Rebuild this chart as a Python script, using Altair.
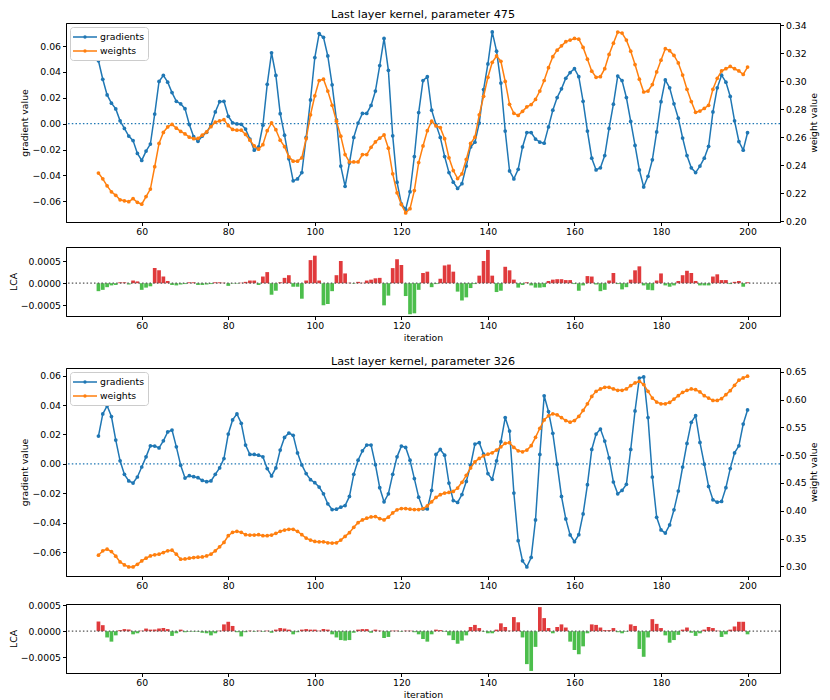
import altair as alt
import pandas as pd

iterations = list(range(50, 201))

# ---- panel 1: parameter 475 ----
top_grad = [
    0.0486, 0.0343, 0.0222, 0.0158, 0.0114, 0.0022, -0.0037, -0.0096, -0.0131, -0.0230,   # 50-59
    -0.0284, -0.0212, -0.0158, 0.0074, 0.0326, 0.0373, 0.0321, 0.0240, 0.0173, 0.0153,   # 60-69
    0.0116, -0.0007, -0.0101, -0.0136, -0.0096, -0.0067, -0.0012, 0.0091, 0.0170, 0.0173,  # 70-79
    0.0057, 0.0007, -0.0002, -0.0005, -0.0042, -0.0119, -0.0205, -0.0180, -0.0012, 0.0304,  # 80-89
    0.0548, 0.0373, 0.0077, -0.0089, -0.0272, -0.0442, -0.0427, -0.0378, -0.0106, 0.0183,  # 90-99
    0.0511, 0.0696, 0.0667, 0.0523, 0.0300, 0.0030, -0.0328, -0.0484, -0.0304, -0.0106,  # 100-109
    0.0005, 0.0079, 0.0079, 0.0141, 0.0252, 0.0449, 0.0659, 0.0412, -0.0094, -0.0452,    # 110-119
    -0.0620, -0.0662, -0.0526, -0.0254, 0.0086, 0.0333, 0.0363, 0.0104, -0.0007, -0.0106,  # 120-129
    -0.0254, -0.0378, -0.0452, -0.0501, -0.0464, -0.0328, -0.0180, -0.0143, 0.0005, 0.0264,  # 130-139
    0.0462, 0.0709, 0.0560, 0.0314, -0.0057, -0.0365, -0.0427, -0.0353, -0.0180, -0.0069,  # 140-149
    -0.0069, -0.0119, -0.0143, -0.0151, -0.0025, 0.0104, 0.0202, 0.0269, 0.0351, 0.0395,  # 150-159
    0.0425, 0.0363, 0.0173, -0.0057, -0.0267, -0.0358, -0.0341, -0.0247, -0.0037, 0.0151,  # 160-169
    0.0368, 0.0333, 0.0202, 0.0017, -0.0168, -0.0358, -0.0489, -0.0407, -0.0279, -0.0064,  # 170-179
    0.0170, 0.0338, 0.0277, 0.0153, 0.0042, -0.0111, -0.0247, -0.0341, -0.0378, -0.0328,  # 180-189
    -0.0267, -0.0175, 0.0091, 0.0277, 0.0375, 0.0321, 0.0210, 0.0022, -0.0138, -0.0205,  # 190-199
    -0.0070,                                                                              # 200
]
top_weight = [
    0.2345, 0.2304, 0.2254, 0.2211, 0.2186, 0.2154, 0.2147, 0.2141, 0.2163, 0.2136,
    0.2123, 0.2177, 0.2231, 0.2390, 0.2556, 0.2635, 0.2674, 0.2692, 0.2665, 0.2642,
    0.2624, 0.2601, 0.2590, 0.2592, 0.2615, 0.2638, 0.2676, 0.2708, 0.2717, 0.2726,
    0.2683, 0.2656, 0.2651, 0.2651, 0.2620, 0.2579, 0.2538, 0.2515, 0.2547, 0.2647,
    0.2703, 0.2654, 0.2579, 0.2533, 0.2461, 0.2430, 0.2430, 0.2454, 0.2590, 0.2760,
    0.2896, 0.3005, 0.3014, 0.2930, 0.2828, 0.2715, 0.2608, 0.2477, 0.2424, 0.2424,
    0.2424, 0.2477, 0.2477, 0.2529, 0.2567, 0.2594, 0.2617, 0.2522, 0.2340, 0.2204,
    0.2120, 0.2061, 0.2091, 0.2220, 0.2420, 0.2538, 0.2647, 0.2715, 0.2681, 0.2669,
    0.2590, 0.2454, 0.2363, 0.2306, 0.2340, 0.2442, 0.2556, 0.2601, 0.2760, 0.2892,
    0.3028, 0.3135, 0.3180, 0.3142, 0.2998, 0.2835, 0.2771, 0.2756, 0.2785, 0.2817,
    0.2833, 0.2870, 0.2930, 0.3005, 0.3096, 0.3175, 0.3221, 0.3252, 0.3282, 0.3293,
    0.3305, 0.3300, 0.3241, 0.3157, 0.3071, 0.3028, 0.3032, 0.3089, 0.3191, 0.3271,
    0.3350, 0.3343, 0.3293, 0.3214, 0.3119, 0.3014, 0.2923, 0.2930, 0.2976, 0.3066,
    0.3150, 0.3232, 0.3218, 0.3184, 0.3130, 0.3044, 0.2942, 0.2855, 0.2778, 0.2787,
    0.2806, 0.2828, 0.2942, 0.3021, 0.3073, 0.3089, 0.3105, 0.3089, 0.3073, 0.3048,
    0.3101,
]
top_lca = [
    -0.00018, -0.00015, -0.00009, -0.00005, -0.00004, 0.00002, 0.00002, -0.00003, 0.00006, 0.00004,
    -0.00015, -0.00010, -0.00007, 0.00034, 0.00029, 0.00015, 0.00005, -0.00004, -0.00005, -0.00003,
    -0.00002, 0.00002, 0.00002, -0.00004, -0.00004, -0.00003, -0.00002, 0.00002, 0.00002, 0.00001,
    -0.00006, -0.00001, -0.00001, 0.00001, 0.00003, 0.00006, 0.00006, -0.00004, 0.00015, 0.00025,
    -0.00026, -0.00017, 0.00002, 0.00012, 0.00018, -0.00008, -0.00008, -0.00035, 0.00006, 0.00052,
    0.00062, 0.00006, -0.00050, -0.00047, -0.00018, 0.00018, 0.00050, 0.00022, 0.00001, -0.00001,
    0.00003, 0.00001, 0.00006, 0.00008, 0.00011, 0.00012, -0.00050, -0.00028, 0.00034, 0.00054,
    0.00041, -0.00029, -0.00070, -0.00068, -0.00015, 0.00023, 0.00026, -0.00009, -0.00002, 0.00010,
    0.00040, 0.00042, 0.00026, -0.00019, -0.00039, -0.00032, -0.00011, -0.00002, 0.00017, 0.00050,
    0.00075, 0.00017, -0.00020, -0.00017, 0.00037, 0.00029, 0.00008, -0.00010, -0.00004, 0.00002,
    -0.00005, -0.00010, -0.00010, -0.00009, 0.00005, 0.00008, 0.00009, 0.00009, 0.00007, 0.00007,
    -0.00002, -0.00017, -0.00005, 0.00016, 0.00015, -0.00003, -0.00018, -0.00015, 0.00006, 0.00023,
    -0.00002, -0.00014, -0.00009, 0.00008, 0.00029, 0.00038, -0.00005, -0.00015, -0.00016, 0.00006,
    0.00022, -0.00005, -0.00008, -0.00005, 0.00005, 0.00018, 0.00028, 0.00023, 0.00005, -0.00005,
    -0.00005, -0.00005, 0.00015, 0.00020, 0.00007, 0.00007, -0.00002, 0.00003, 0.00005, -0.00008,
    0.00002,
]

# ---- panel 2: parameter 326 ----
bot_grad = [
    0.0189, 0.0340, 0.0395, 0.0322, 0.0162, 0.0021, -0.0071, -0.0116, -0.0130, -0.0089,
    -0.0021, 0.0048, 0.0123, 0.0121, 0.0109, 0.0157, 0.0217, 0.0230, 0.0116, -0.0009,
    -0.0096, -0.0080, -0.0087, -0.0094, -0.0112, -0.0121, -0.0116, -0.0071, -0.0027, 0.0036,
    0.0203, 0.0299, 0.0340, 0.0276, 0.0128, 0.0064, 0.0064, 0.0059, 0.0048, -0.0032,
    -0.0082, -0.0027, 0.0094, 0.0180, 0.0210, 0.0194, 0.0075, -0.0007, -0.0066, -0.0107,
    -0.0128, -0.0157, -0.0203, -0.0271, -0.0310, -0.0308, -0.0294, -0.0283, -0.0221, -0.0071,
    0.0025, 0.0089, 0.0128, 0.0128, -0.0005, -0.0162, -0.0258, -0.0203, -0.0071, 0.0048,
    0.0121, 0.0112, 0.0025, -0.0100, -0.0226, -0.0306, -0.0306, -0.0180, 0.0064, 0.0098,
    0.0059, -0.0130, -0.0249, -0.0262, -0.0208, -0.0119, -0.0009, 0.0135, 0.0144, 0.0066,
    -0.0066, -0.0105, 0.0021, 0.0151, 0.0315, 0.0223, -0.0198, -0.0522, -0.0659, -0.0700,
    -0.0636, -0.0381, 0.0064, 0.0463, 0.0356, 0.0208, -0.0002, -0.0221, -0.0374, -0.0483,
    -0.0529, -0.0481, -0.0340, -0.0141, 0.0098, 0.0203, 0.0237, 0.0155, 0.0041, -0.0123,
    -0.0203, -0.0180, -0.0139, 0.0098, 0.0360, 0.0584, 0.0591, 0.0315, -0.0089, -0.0363,
    -0.0449, -0.0470, -0.0415, -0.0312, -0.0185, -0.0021, 0.0139, 0.0283, 0.0328, 0.0146,
    -0.0002, -0.0153, -0.0244, -0.0260, -0.0255, -0.0162, -0.0032, 0.0075, 0.0123, 0.0271,
    0.0367,
]
bot_weight = [
    0.3200, 0.3278, 0.3308, 0.3266, 0.3181, 0.3079, 0.3024, 0.2988, 0.2988, 0.3036,
    0.3097, 0.3145, 0.3187, 0.3206, 0.3218, 0.3248, 0.3278, 0.3290, 0.3218, 0.3127,
    0.3133, 0.3145, 0.3157, 0.3163, 0.3169, 0.3187, 0.3218, 0.3278, 0.3351, 0.3429,
    0.3550, 0.3611, 0.3629, 0.3611, 0.3568, 0.3562, 0.3562, 0.3568, 0.3550, 0.3550,
    0.3562, 0.3593, 0.3629, 0.3653, 0.3665, 0.3665, 0.3629, 0.3568, 0.3508, 0.3472,
    0.3447, 0.3441, 0.3441, 0.3423, 0.3417, 0.3423, 0.3472, 0.3538, 0.3605, 0.3701,
    0.3786, 0.3834, 0.3865, 0.3889, 0.3895, 0.3859, 0.3834, 0.3883, 0.3961, 0.4016,
    0.4040, 0.4040, 0.4028, 0.4022, 0.4022, 0.4040, 0.4088, 0.4161, 0.4240, 0.4288,
    0.4318, 0.4330, 0.4348, 0.4409, 0.4512, 0.4638, 0.4771, 0.4880, 0.4941, 0.4989,
    0.5019, 0.5044, 0.5092, 0.5152, 0.5213, 0.5225, 0.5140, 0.5080, 0.5062, 0.5092,
    0.5171, 0.5322, 0.5485, 0.5636, 0.5709, 0.5745, 0.5727, 0.5678, 0.5624, 0.5594,
    0.5624, 0.5697, 0.5805, 0.5926, 0.6059, 0.6150, 0.6192, 0.6222, 0.6222, 0.6192,
    0.6168, 0.6168, 0.6192, 0.6253, 0.6301, 0.6331, 0.6271, 0.6150, 0.6029, 0.5956,
    0.5926, 0.5926, 0.5950, 0.6011, 0.6071, 0.6132, 0.6168, 0.6192, 0.6180, 0.6138,
    0.6071, 0.6029, 0.5987, 0.5987, 0.6017, 0.6090, 0.6162, 0.6259, 0.6350, 0.6392,
    0.6422,
]
bot_lca = [
    0.000185, 0.000115, -0.00012, -0.00020, -0.00008, 0.00002, 0.00004, 0.00003, -0.00006, -0.00004,
    0.00001, 0.00005, 0.00003, 0.00003, 0.00005, 0.00006, 0.00004, -0.00009, -0.00004, 0.00003,
    -0.00002, -0.00001, -0.00001, -0.00001, -0.00003, -0.00004, -0.00008, -0.00004, 0.00001, 0.00013,
    0.00018, 0.00010, -0.00002, -0.00010, -0.00002, 0.00001, -0.00001, 0.00001, -0.00001, 0.00001,
    -0.00003, 0.00003, 0.00006, 0.00005, 0.00003, -0.00006, -0.00002, 0.00003, 0.00004, 0.00003,
    0.00003, 0.00001, 0.00004, 0.00003, -0.00006, -0.00012, -0.00017, -0.00018, -0.00017, -0.00003,
    0.00003, 0.00004, 0.00004, -0.00003, 0.00003, 0.00001, -0.00013, -0.00011, 0.00001, 0.00001,
    -0.00001, 0.00001, 0.00001, -0.00002, -0.00006, -0.00015, -0.00020, -0.00006, 0.00003, 0.00002,
    -0.00001, -0.00008, -0.00017, -0.00024, -0.00018, -0.00008, 0.00008, 0.00012, 0.00006, -0.00001,
    -0.00004, -0.00004, 0.00003, 0.00015, 0.00008, 0.00001, 0.00027, 0.00017, -0.00012, -0.00063,
    -0.00076, -0.00030, 0.00046, 0.00025, 0.00006, -0.00004, 0.00008, 0.00013, 0.00007, -0.00020,
    -0.00036, -0.00044, -0.00029, -0.00004, 0.00013, 0.00012, 0.00007, 0.00002, 0.00002, 0.00006,
    -0.00002, -0.00004, -0.00001, 0.00013, 0.00010, -0.00034, -0.00049, -0.00012, 0.00023, 0.00014,
    0.00006, -0.00008, -0.00022, -0.00017, -0.00007, 0.00003, 0.00007, -0.00003, -0.00009, -0.00004,
    0.00003, 0.00008, 0.00006, 0.00001, -0.00011, -0.00006, 0.00003, 0.00009, 0.00018, 0.00018,
    -0.00006,
]

x_ticks = [60, 80, 100, 120, 140, 160, 180, 200]
grad_ticks = [-0.06, -0.04, -0.02, 0.0, 0.02, 0.04, 0.06]
top_w_ticks = [0.20, 0.22, 0.24, 0.26, 0.28, 0.30, 0.32, 0.34]
bot_w_ticks = [0.30, 0.35, 0.40, 0.45, 0.50, 0.55, 0.60, 0.65]
lca_ticks = [-0.0005, 0.0, 0.0005]

FONT = "DejaVu Sans"
BLUE = "#1f77b4"
ORANGE = "#ff7f0e"
RED = "#e03a3c"
GREEN = "#4cbe4c"
W = 714
X_DOMAIN = [42.5, 207.5]
LEGEND_SYMBOL = "M-2,0L2,0M-0.17,0A0.17,0.17,0,1,1,0.17,0A0.17,0.17,0,1,1,-0.17,0Z"


def x_enc(field, title=None):
    return alt.X(
        field,
        scale=alt.Scale(domain=X_DOMAIN, nice=False, zero=False),
        axis=alt.Axis(values=x_ticks, title=title, format="d", labelOverlap=False),
    )


def line_panel(title, grad, weight, gdom, wdom, wticks, height):
    df_g = pd.DataFrame({"iteration": iterations, "value": grad, "series": "gradients"})
    df_w = pd.DataFrame({"iteration": iterations, "value": weight, "series": "weights"})
    zero_df = pd.DataFrame({"value": [0.0]})
    color = alt.Color(
        "series:N",
        scale=alt.Scale(domain=["gradients", "weights"], range=[BLUE, ORANGE]),
        legend=alt.Legend(
            title=None, orient="top-left", offset=4, padding=3,
            strokeColor="#cccccc", fillColor="white", cornerRadius=3,
            labelFont=FONT, labelFontSize=9.3, labelColor="black",
            symbolType=LEGEND_SYMBOL, symbolSize=144, symbolStrokeWidth=1.5,
            symbolOffset=5, labelOffset=8, rowPadding=1,
        ),
    )
    g_axis = alt.Axis(orient="left", title="gradient value", values=grad_ticks,
                      format=".2f", labelOverlap=False, labelSeparation=0)
    g_scale = alt.Scale(domain=gdom, nice=False, zero=False)
    gline = alt.Chart(df_g).mark_line(
        strokeWidth=1.5, point=alt.OverlayMarkDef(filled=True, size=14)
    ).encode(
        x=x_enc("iteration:Q"),
        y=alt.Y("value:Q", scale=g_scale, axis=g_axis),
        color=color,
    )
    zero = alt.Chart(zero_df).mark_rule(
        color=BLUE, strokeDash=[1.5, 2.2], strokeWidth=1.4
    ).encode(y=alt.Y("value:Q", scale=g_scale, axis=g_axis))
    wline = alt.Chart(df_w).mark_line(
        strokeWidth=1.5, point=alt.OverlayMarkDef(filled=True, size=14)
    ).encode(
        x=x_enc("iteration:Q"),
        y=alt.Y("value:Q", scale=alt.Scale(domain=wdom, nice=False, zero=False),
                axis=alt.Axis(orient="right", title="weight value", values=wticks,
                              format=".2f", labelOverlap=False, titleAngle=270,
                              titleBaseline="top", titlePadding=3)),
        color=color,
    )
    return alt.layer(alt.layer(gline, zero), wline).resolve_scale(y="independent").properties(
        width=W, height=height,
        title=alt.TitleParams(title, font=FONT, fontSize=11.2, fontWeight="normal",
                              color="black", offset=1, anchor="middle", frame="group"),
    )


def bar_panel(lca, ydom):
    df = pd.DataFrame({"iteration": iterations, "lca": lca})
    zero_df = pd.DataFrame({"lca": [0.0]})
    l_axis = alt.Axis(title="LCA", values=lca_ticks, format=".4f",
                      labelOverlap=False, titlePadding=2, labelSeparation=0)
    l_scale = alt.Scale(domain=ydom, nice=False, zero=False)
    bars = alt.Chart(df).transform_calculate(
        x0="datum.iteration - 0.43", x1="datum.iteration + 0.43"
    ).mark_bar().encode(
        x=x_enc("x0:Q", title="iteration"),
        x2="x1:Q",
        y=alt.Y("lca:Q", scale=l_scale, axis=l_axis),
        y2=alt.datum(0),
        color=alt.when(alt.datum.lca > 0).then(alt.value(RED)).otherwise(alt.value(GREEN)),
    )
    zero = alt.Chart(zero_df).mark_rule(
        color="#555555", strokeDash=[1.5, 2.2], strokeWidth=1.2
    ).encode(y=alt.Y("lca:Q", scale=l_scale, axis=l_axis))
    return alt.layer(bars, zero).properties(width=W, height=69)


top = line_panel("Last layer kernel, parameter 475", top_grad, top_weight,
                 [-0.076, 0.0778], [0.1996, 0.3415], top_w_ticks, 199)
bar1 = bar_panel(top_lca, [-0.00074, 0.000816])
bot = line_panel("Last layer kernel, parameter 326", bot_grad, bot_weight,
                 [-0.0762, 0.0652], [0.2825, 0.657], bot_w_ticks, 208)
bar2 = bar_panel(bot_lca, [-0.0008, 0.00052])

g1 = alt.vconcat(top, bar1, spacing=8).resolve_scale(x="independent", y="independent", color="independent")
g2 = alt.vconcat(bot, bar2, spacing=8).resolve_scale(x="independent", y="independent", color="independent")

chart = alt.vconcat(g1, g2, spacing=11).resolve_scale(
    x="independent", y="independent", color="independent"
).properties(padding=0).configure(font=FONT).configure_view(
    stroke="black", strokeWidth=1
).configure_axis(
    labelFont=FONT, labelFontSize=9.3, labelColor="black",
    titleFont=FONT, titleFontSize=9.3, titleFontWeight="normal", titleColor="black",
    domainColor="black", tickColor="black", tickSize=3.5, labelPadding=2,
    titlePadding=3, grid=False, labelFlush=False, labelOverlap=False,
)

chart.save("out.html", embed_options={"renderer": "svg", "actions": False})
